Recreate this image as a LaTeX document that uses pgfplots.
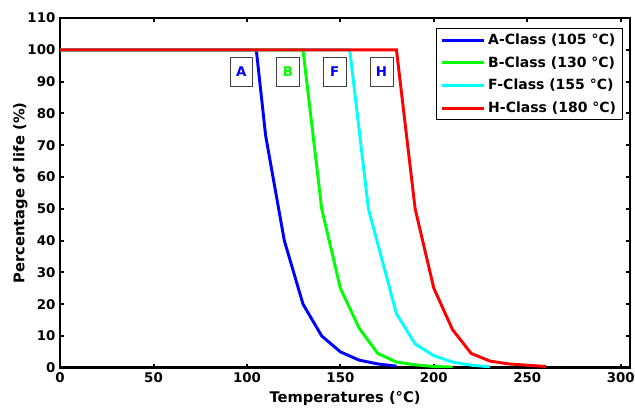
\documentclass[border=0pt]{standalone}
\usepackage{pgfplots}
\pgfplotsset{compat=1.18}
\usepackage{fontspec}
\setmainfont{DejaVu Sans}
\definecolor{mcyan}{rgb}{0,1,1}
\definecolor{mgreen}{rgb}{0,1,0}
\definecolor{mblue}{rgb}{0,0,1}
\definecolor{mred}{rgb}{1,0,0}

\begin{document}
\begin{tikzpicture}
\begin{axis}[
    scale only axis, width=427pt, height=262pt,
    xmin=0, xmax=305, ymin=0, ymax=110,
    xtick={0,50,...,300}, ytick={0,10,...,110},
    tick align=inside, major tick length=3pt,
    axis line style={line width=2pt},
    every tick/.style={black, line width=1.5pt},
    /pgf/number format/assume math mode=true,
    tick label style={font=\fontsize{10}{12}\selectfont\bfseries},
    label style={font=\fontsize{11}{13}\selectfont\bfseries},
    xlabel={Temperatures (°C)}, ylabel={Percentage of life (\%)},
    xlabel style={yshift=0pt}, ylabel style={yshift=-7pt},
    legend style={at={(0.988,0.971)}, anchor=north east, draw=black, line width=0.6pt,
        font=\fontsize{10.5}{12}\selectfont\bfseries, row sep=3.5pt,
        inner xsep=3pt, inner ysep=2pt},
    legend cell align=left,
    legend image code/.code={\draw[#1] (0cm,0cm) -- (1.1cm,0cm);},
    every axis plot/.append style={line width=2.2pt},
]
\addplot[color=mblue] coordinates {(0,100) (105,100) (110,73) (120,40) (130,20) (140,10) (150,5) (160,2.4) (170,1.2) (180,0.5)};
\addlegendentry{A-Class (105 °C)}
\addplot[color=mgreen] coordinates {(0,100) (130,100) (140,50) (150,25) (160,12.5) (170,4.5) (180,1.8) (190,0.9) (200,0.4) (210,0.2)};
\addlegendentry{B-Class (130 °C)}
\addplot[color=mcyan] coordinates {(0,100) (155,100) (165,50) (180,17) (190,7.5) (200,3.8) (210,1.8) (220,0.8) (230,0.3)};
\addlegendentry{F-Class (155 °C)}
\addplot[color=mred] coordinates {(0,100) (180,100) (190,50) (200,25) (210,12) (220,4.5) (230,2.1) (240,1.2) (250,0.8) (260,0.4)};
\addlegendentry{H-Class (180 °C)}
\tikzset{lbl/.style={draw=darkgray, fill=white, line width=0.5pt, minimum width=17pt, minimum height=22pt, inner sep=1pt, font=\fontsize{10}{12}\selectfont\bfseries}}
\node[lbl, text=mblue] at (axis cs:97,93) {A};
\node[lbl, text=mgreen] at (axis cs:122,93) {B};
\node[lbl, text=mblue] at (axis cs:147,93) {F};
\node[lbl, text=mblue] at (axis cs:172,93) {H};
\end{axis}
\pgfresetboundingbox
\path ([xshift=-45pt, yshift=-32pt]current axis.south west) rectangle ([xshift=3.7pt, yshift=13.5pt]current axis.north east);
\end{tikzpicture}
\end{document}
